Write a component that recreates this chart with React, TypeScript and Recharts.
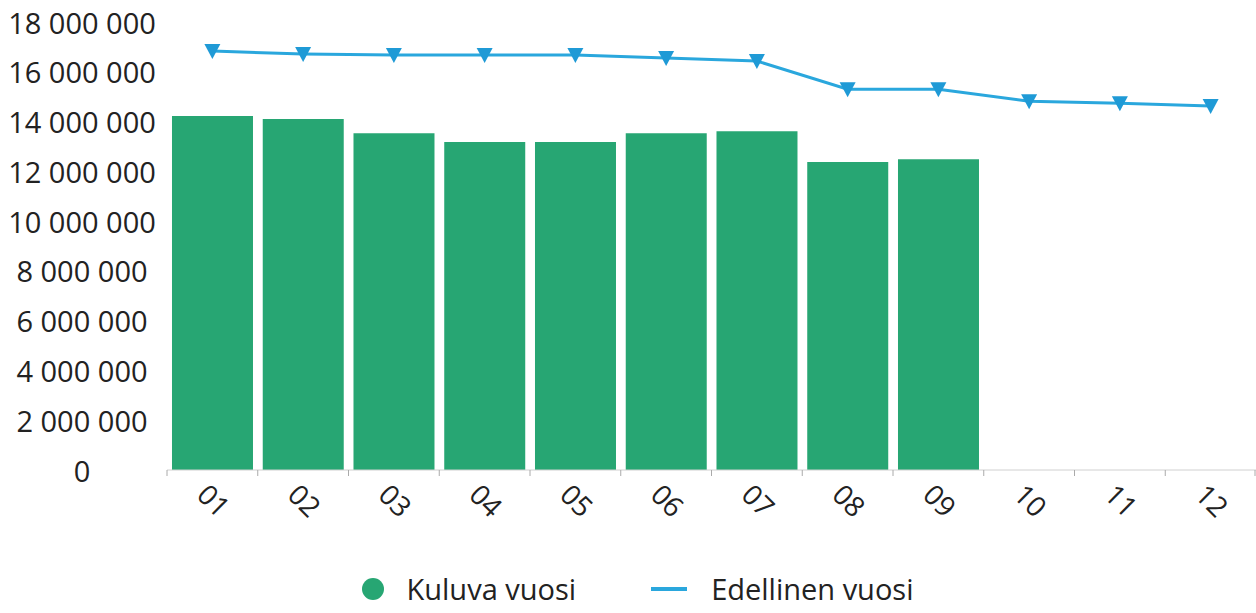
import React from 'react';
import { ComposedChart, Bar, Line, XAxis, YAxis, Legend } from 'recharts';

const months = ['01', '02', '03', '04', '05', '06', '07', '08', '09', '10', '11', '12'];
const currentYear = [14220000, 14100000, 13530000, 13180000, 13180000, 13530000, 13610000, 12380000, 12490000, null, null, null];
const previousYear = [16830000, 16710000, 16670000, 16670000, 16670000, 16550000, 16430000, 15300000, 15300000, 14820000, 14740000, 14620000];
const yTicks = [0, 2000000, 4000000, 6000000, 8000000, 10000000, 12000000, 14000000, 16000000, 18000000];

const data = months.map((m, i) => ({
    month: m,
    kuluva: currentYear[i],
    edellinen: previousYear[i],
}));

const FONT = '"Open Sans", "Noto Sans", sans-serif';
const GREEN = '#27a673';
const BLUE = '#2aa7dd';

const fmt = (v: number) => String(v).replace(/\B(?=(\d{3})+(?!\d))/g, ' ');

const YTick = (props: any) => {
    const { y, payload } = props;
    return (
        <text x={82} y={y} textAnchor="middle" dominantBaseline="central" fill="#222" fontSize={29} fontFamily={FONT}>
            {fmt(payload.value)}
        </text>
    );
};

// tick marks sit on category boundaries, labels at category centres
const XTick = (props: any) => {
    const { x, y, payload, index } = props;
    const half = payload.offset || 45.375;
    const axisY = y - 8;
    const cy = y + 22;
    return (
        <g>
            <line x1={x - half} y1={axisY} x2={x - half} y2={axisY + 6} stroke="#aaa" />
            {index === 11 && <line x1={x + half - 1} y1={axisY} x2={x + half - 1} y2={axisY + 6} stroke="#aaa" />}
            <text x={x + 2} y={cy} textAnchor="middle" dominantBaseline="central" fill="#222" fontSize={28} fontFamily={FONT}
                transform={`rotate(45, ${x + 2}, ${cy})`}>
                {payload.value}
            </text>
        </g>
    );
};

const TriangleDot = (props: any) => {
    const { cx, cy } = props;
    if (cx == null || cy == null) return null;
    return <polygon points={`${cx - 8},${cy - 7} ${cx + 8},${cy - 7} ${cx},${cy + 8}`} fill="#1f9ad6" />;
};

const LegendContent = () => (
    <div style={{ display: 'flex', alignItems: 'center', justifyContent: 'center', paddingTop: 24, paddingLeft: 18, fontFamily: FONT, fontSize: 29, color: '#222' }}>
        <svg width={24} height={24} style={{ marginRight: 22 }}>
            <circle cx={12} cy={12} r={11} fill={GREEN} />
        </svg>
        <span style={{ marginRight: 75 }}>Kuluva vuosi</span>
        <svg width={36} height={24} style={{ marginRight: 24 }}>
            <line x1={0} y1={12} x2={36} y2={12} stroke={BLUE} strokeWidth={4} />
        </svg>
        <span>Edellinen vuosi</span>
    </div>
);

export default function App() {
    return (
        <div style={{ position: 'absolute', left: 0, top: 0, background: '#fff' }}>
            <ComposedChart width={1256} height={613} data={data} margin={{ top: 22, right: 0, left: 0, bottom: 0 }} barCategoryGap="5.5%">
                <XAxis dataKey="month" height={75} tick={<XTick />} axisLine={{ stroke: '#d0d0d0' }} tickLine={{ stroke: 'none' }} tickSize={6} interval={0} />
                <YAxis width={167} domain={[0, 18000000]} ticks={yTicks} tick={<YTick />} axisLine={false} tickLine={false} interval={0} />
                <Legend verticalAlign="bottom" height={68} content={<LegendContent />} />
                <Bar dataKey="kuluva" name="Kuluva vuosi" fill={GREEN} isAnimationActive={false} />
                <Line dataKey="edellinen" name="Edellinen vuosi" stroke={BLUE} strokeWidth={3} dot={<TriangleDot />} activeDot={false} isAnimationActive={false} />
            </ComposedChart>
        </div>
    );
}
